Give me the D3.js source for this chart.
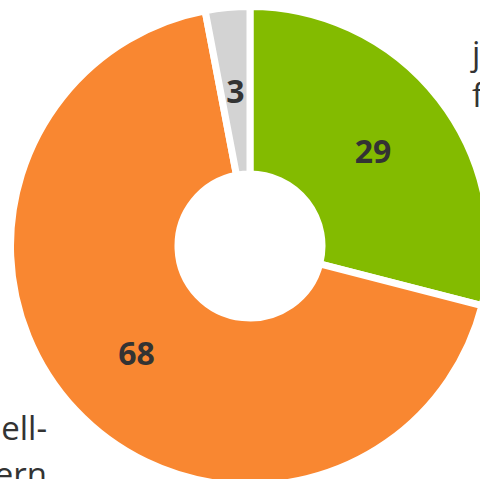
<!DOCTYPE html>
<html>
<head>
<meta charset="utf-8">
<script src="https://cdn.jsdelivr.net/npm/d3@7"></script>
<style>
  body { margin: 0; background: #fff; overflow: hidden; }
  svg { display: block; }
</style>
</head>
<body>
<div id="chart"></div>
<script>
// slice data
let categories = ["green", "orange", "gray"];
let values = [29, 68, 3];
let colors = ["#83BB00", "#F98731", "#D3D3D3"];

// outer labels (cut off by the frame)
let rightLabel = ["j", "f"];
let leftLabel = ["ell-", "ern"];

let width = 480, height = 479;
let cx = 250, cy = 246;
let outerR = 239.5, innerR = 72;

let svg = d3.select("#chart").append("svg")
    .attr("width", width)
    .attr("height", height);

let g = svg.append("g")
    .attr("transform", "translate(" + cx + "," + cy + ")");

let pie = d3.pie().sort(null).value(function (d) { return d; });
let arc = d3.arc().innerRadius(innerR).outerRadius(outerR);

let arcs = pie(values);

g.selectAll("path")
    .data(arcs)
    .enter().append("path")
    .attr("d", arc)
    .attr("fill", function (d, i) { return colors[i]; })
    .attr("stroke", "#fff")
    .attr("stroke-width", 7);

g.selectAll("text.val")
    .data(arcs)
    .enter().append("text")
    .attr("class", "val")
    .attr("transform", function (d) { return "translate(" + arc.centroid(d) + ")"; })
    .attr("text-anchor", "middle")
    .attr("dy", "0.38em")
    .attr("font-family", "'Open Sans', sans-serif")
    .attr("font-weight", "bold")
    .attr("font-size", 32)
    .attr("fill", "#333")
    .text(function (d) { return d.data; });

// side labels
let lblFont = "'Open Sans', sans-serif";
svg.append("text")
    .attr("y", 65)
    .attr("font-family", lblFont).attr("font-size", 33).attr("fill", "#333")
    .selectAll("tspan").data(rightLabel).enter().append("tspan")
    .attr("x", 472)
    .attr("dy", function (d, i) { return i === 0 ? 0 : 42; })
    .text(function (d) { return d; });

svg.append("text")
    .attr("y", 440)
    .attr("text-anchor", "end")
    .attr("font-family", lblFont).attr("font-size", 33).attr("fill", "#333")
    .selectAll("tspan").data(leftLabel).enter().append("tspan")
    .attr("x", 47)
    .attr("dy", function (d, i) { return i === 0 ? 0 : 46; })
    .text(function (d) { return d; });
</script>
</body>
</html>
